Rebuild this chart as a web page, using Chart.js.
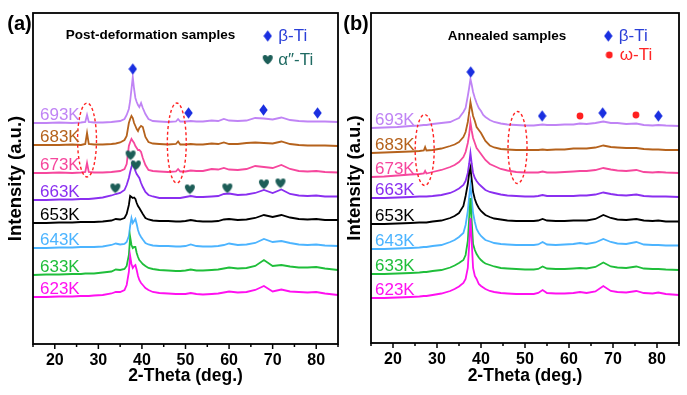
<!DOCTYPE html>
<html><head><meta charset="utf-8">
<script src="https://cdn.jsdelivr.net/npm/chart.js@4/dist/chart.umd.min.js"></script>
<style>
html,body{margin:0;padding:0;background:#fff;width:687px;height:395px;overflow:hidden}
#ca{position:absolute;left:0;top:0}
#cb{position:absolute;left:337px;top:0}
</style></head><body>
<canvas id="ca" width="345" height="395"></canvas>
<canvas id="cb" width="350" height="395"></canvas>
<script>
// ---------- data ----------
const names = ['693K','683K','673K','663K','653K','643K','633K','623K'];
const colors = ['#c084f5','#b5621c','#f6479d','#8a2ff0','#000000','#4cb4ff','#1fbe3a','#ff10f0'];

// (a) post-deformation samples
const xA = [15,18,21,24,26,27,27.4,27.8,29,31,33,34,35,36,36.5,37,37.3,37.6,37.9,38.2,38.5,38.8,39.1,39.4,39.8,40.2,40.8,41.5,42.5,44,46,47.8,48.3,48.8,50,51.2,52.5,54,56,57.5,58.8,60,62,64,66,68,70,72,74,76,78,80,82,85];
const offsetsA = [221,199,171,144,121,96,69,47];
const a693 = [0,0,0.5,0,0.5,1,8,1,0.5,0.5, 1,1.5,2,4,8, 14,22,34,46,34, 25,21,18,16,20, 15,9,4,2,1.5, 1,1.5,4,1.5,1.5, 2,1.5,1.5,2.5,2, 4,2.5,2,2.5,5, 4.5,3.5,5.5,3,2, 1.5,1.5,1.5,1];
const a683 = [0,0,0,0.5,0,1,12,1,0.5,0.5, 1,1.5,2.5,5,9, 22,26,29,27,22, 19,16,14,17,19, 18,8,3,1.5,1, 0.5,1,3.5,0.5,0.5, 1,0.5,0.5,1.5,1, 2.5,1,1,2,2.5, 2,1.5,3.5,1,0, -0.5,-0.5,-0.5,-1];
const a673 = [0,0,0.5,0,0.5,1,10,1,0.5,0.5, 1,1.5,2,4,9, 27,31,34,32,30, 27,25,23,23,21, 15,8,3,2,1.5, 1,1.5,4,1.5,1.5, 2.5,2,2,4,3.5, 5,3.5,3,4,7, 6,5,8,4,2, 1.5,2,1,0.5];
const a663 = [0,0,0.5,0.5,1,1,1,1,1.5,2.5, 4.5,6,7,10,15, 22,28,33,37,33, 29,26,24,22,17, 13,8,5,3.5,2, 2,2,2,2,3, 4,3,3,3.5,4, 6,6.5,5,5.5,7, 10,7,10.5,6,4.5, 4,4.5,3.5,3.5];
const a653 = [0,0,0.5,0.5,1,1,1,1,1,1.5, 2.5,4,3.5,5,9, 18,27,26,25,25.5, 24,20,17,15,12, 9,5,3.5,2.5,2, 2,1.5,1.5,1.5,2, 3,2,1.5,1.5,2, 3.5,4,3,3.5,5, 8,6,8,5.5,4, 3.5,4,3,3];
const a643 = [0,0,0.5,0.5,1,1,1,1,1,1.5, 3,4.5,3.5,4,6, 12,22,30,25,27, 29,24,18,14,11, 8.5,5,3.5,2.5,2, 2,1.5,1.5,1.5,2, 3.5,2,1.5,1.5,2, 3,4.5,3,3.5,5, 9,6,7,5,3.5, 3,3.5,2.5,2];
const a633 = [0,0.5,0.5,1,1,1.5,1.5,1.5,1.5,2.5, 3.5,5.5,5,6,9, 20,38,30,27,28, 28,22,18,15,13, 11,9,7,6,5, 4.5,4,4,4,4.5, 5.5,4.5,4.5,5,5.5, 6.5,7.5,6.5,7,9, 15,9,10,8.5,7.5, 7.5,8,6.5,5];
const a623 = [0,0,0.5,0.5,1,1,1,1,1.5,2, 3.5,5,5,7,12, 25,41,33,29,31, 32,27,21,17,14, 12,9,7,5,4, 3.5,3,3,3,3, 4,3,2.5,3,3.5, 4.5,5.5,4.5,5,7, 11,5.5,7.5,5.5,5, 4.5,5,3.5,2];
const betaA = [[37.9,275],[50.7,231],[67.9,234],[80.3,231]];
const alphaA = [[37.4,189],[38.6,179],[33.9,156],[51.0,155],[59.6,156],[68.0,160],[71.8,161]];
const ellipsesA = [[27.4,204,2.17,37],[48.0,201,2.17,40]];

// (b) annealed samples
const xB = [15,18,21,24,26,27,27.3,27.6,29,31, 33,34,35,36,36.5,37,37.3,37.6,37.9,38.2, 38.6,39,39.5,40,40.5,41,42,43,44.5,46, 48,50,52,53,54,55,57,59,61,62.5, 64,66,67.8,69.5,71,73,75.3,77,79,80.3, 82,85];
const offsetsB = [215,190,166,145,119,94,69,45];
const b693 = [0,0.5,1,2,2.5,3,3,3,4,5, 6,8,10,16,20,32,40,49,43,36, 30,25,20,17,13,11,8,6,4.5,3.5, 3,2.5,2.5,3,3.5,3,3,3.5,3.5,4.5, 4,5,6.5,5,5,4,4.5,3,2.5,3, 2.5,2];
const b683 = [0,0.5,1,1.5,2,2.5,6,2.5,3,4.5, 7,8.5,11,16,21,31,40,51,44,37, 32,26,23,20,16,12,7.5,5.5,4,3.5, 3,3,3,3,3.5,3,3.5,3.5,4.5,4.5, 4.5,5.5,7.5,6,5.5,5,5,4,3.5,3.5, 3,3];
const b673 = [0,0.5,1.5,2.5,3,3.5,6,3.5,5,7, 10,12,15,20,25,34,42,55,46,39, 34,29,26,23,20,17,13,11,8,6.5, 5,4.5,4.5,4.5,5.5,4.5,4.5,5,5.5,6, 6,7,9,7.5,6.5,6,7,5,4.5,5, 4.5,4];
const b663 = [0,0,0.5,1,1.5,1.5,1.5,1.5,2,3, 5,7,9.5,13,17,25,34,45,34,25, 20,17,14,12,10,8,6,5,3.5,2.5, 2,1.5,1.5,2,3,2,2,2,2,2.5, 2.5,3.5,5.5,4,3,2.5,3.5,2,1.5,1.5, 1.5,1];
const b653 = [0,0,0.5,1,1.5,1.5,1.5,1.5,2.5,3.5, 6,8,11,18,28,40,50,56,44,32, 25,20,16,13,11,9,7,5.5,4.5,3.5, 3,3,3,3.5,5,3.5,3,3,3.5,3.5, 3.5,5,9,6,4.5,4,5,3.5,3,3.5, 2.5,2.5];
const b643 = [0,0,0.5,1,1.5,2,2,2,3,4, 7,9,12,16,24,38,52,64,50,36, 27,20,16,13,11,9,7.5,6,5,4.5, 4,4,4,4.5,7,4.5,4,4.5,5,6, 5,6.5,10,7,5.5,5,7,4.5,4,4, 3.5,3.5];
const b633 = [0,0,0.5,1,1.5,2,2,2,3,4, 6.5,8.5,11,14,19,33,55,76,52,30, 24,20,16.5,14,12,10.5,9,7.5,6,5.5, 5,4.5,4.5,5,7.5,5.5,5,5,5.5,6, 5.5,7,11.5,7.5,6.5,6,7.5,5.5,5,5, 4.5,4];
const b623 = [0,0,0.5,1,1.5,2,2,2,3,4.5, 7,9,11.5,15,19,30,52,80,55,30, 22,19,14,12,10.5,9,7,6,5,4.5, 4,4,4,5,8,5,4.5,4.5,5,6, 5,6.5,12,7,6,5.5,7,5,4.5,5.5, 4,3];
const betaB = [[37.66,271],[53.9,227],[67.65,230],[80.3,227]];
const omegaB = [[62.5,227],[75.2,228]];
const ellipsesB = [[27.2,193,2.16,35.5],[48.3,195.5,2.16,36]];

// ---------- styling helpers ----------
const FONT = '"Liberation Sans", Arial, Helvetica, sans-serif';
function mkCanvas(w,h,draw){const c=document.createElement('canvas');c.width=w;c.height=h;draw(c.getContext('2d'));return c;}
const diamondImg = mkCanvas(9,12,g=>{g.fillStyle='#1a2fe0';g.beginPath();g.moveTo(4.5,0.3);g.lineTo(8.7,6);g.lineTo(4.5,11.7);g.lineTo(0.3,6);g.closePath();g.fill();});
const heartImg = mkCanvas(12,11,g=>{g.fillStyle='#1d5e58';g.beginPath();g.moveTo(6,10.6);g.bezierCurveTo(0.2,6.2,-0.2,1.6,3,1);g.bezierCurveTo(4.8,0.7,5.9,2.2,6,3.2);g.bezierCurveTo(6.1,2.2,7.2,0.7,9,1);g.bezierCurveTo(12.2,1.6,11.8,6.2,6,10.6);g.closePath();g.fill();});
const dotImg = mkCanvas(8,8,g=>{g.fillStyle='#ff2020';g.beginPath();g.arc(4,4,3.4,0,Math.PI*2);g.fill();});

function curveSets(xs, rows, offs){
  // lowest pattern listed first so it is drawn on top
  const ds=[];
  for(let i=rows.length-1;i>=0;i--){
    ds.push({type:'line',label:names[i],data:xs.map((x,k)=>({x:x,y:rows[i][k]+offs[i]})),
      borderColor:colors[i],borderWidth:1.8,pointRadius:0,fill:false,tension:0,order:1});
  }
  return ds;
}
function markerSet(pts,img){
  return {type:'line',showLine:false,data:pts.map(p=>({x:p[0],y:p[1]})),pointStyle:img,pointRadius:5,order:-1};
}

const deco = {
  id:'deco',
  afterDraw(chart,args,o){
    const {ctx,chartArea:a,scales:{x,y}} = chart;
    ctx.save();
    // dashed ellipses
    ctx.strokeStyle='#ff2222';ctx.lineWidth=1.4;ctx.setLineDash([3,2.5]);
    o.ellipses.forEach(e=>{
      const cx=x.getPixelForValue(e[0]), cy=y.getPixelForValue(e[1]);
      const rx=Math.abs(x.getPixelForValue(e[0]+e[2])-cx), ry=Math.abs(y.getPixelForValue(e[1]+e[3])-cy);
      ctx.beginPath();ctx.ellipse(cx,cy,rx,ry,0,0,Math.PI*2);ctx.stroke();
    });
    ctx.setLineDash([]);
    // pattern labels
    ctx.font='17px '+FONT;ctx.textAlign='left';ctx.textBaseline='middle';
    names.forEach((n,i)=>{ctx.fillStyle=colors[i];ctx.fillText(n,a.left+o.labelDx,y.getPixelForValue(o.offsets[i])-o.labelDy);});
    // frame
    ctx.strokeStyle='#000';ctx.lineWidth=1.8;
    ctx.strokeRect(a.left,a.top,a.right-a.left,a.bottom-a.top);
    // tick marks
    ctx.lineWidth=1.5;
    x.ticks.forEach(t=>{const px=x.getPixelForValue(t.value);const len=(t.value%10===0)?5:3;
      ctx.beginPath();ctx.moveTo(px,a.bottom);ctx.lineTo(px,a.bottom+len);ctx.stroke();});
    // panel letter
    ctx.fillStyle='#000';ctx.font='bold 20px '+FONT;ctx.textAlign='center';
    ctx.fillText(o.letter,o.letterX,24);
    // panel title
    ctx.font='bold 13.5px '+FONT;
    ctx.fillText(o.title,a.left+o.titleDx,a.top+o.titleDy);
    // legend
    ctx.textAlign='left';ctx.font='17px '+FONT;
    o.legend.forEach(l=>{
      const img=l.img;ctx.drawImage(img,a.left+l.dx-img.width/2,a.top+l.dy-img.height/2);
      ctx.fillStyle=l.color;ctx.fillText(l.text,a.left+l.dx+10.5,a.top+l.dy+0.5);
    });
    ctx.restore();
  }
};

function makeChart(id, xs, rows, offs, markers, opts){
  const datasets = markers.concat(curveSets(xs, rows, offs));
  return new Chart(document.getElementById(id),{
    data:{datasets},
    options:{
      responsive:false,animation:false,devicePixelRatio:1,
      layout:{padding:{top:13,right:opts.padRight,left:0,bottom:0}},
      plugins:{legend:{display:false},tooltip:{enabled:false},deco:opts.deco},
      scales:{
        x:{type:'linear',min:15,max:85,
          ticks:{stepSize:5,autoSkip:false,maxRotation:0,padding:7,color:'#000',
            font:{family:FONT,size:16,weight:'bold'},callback:v=>(v%10===0?v:'')},
          grid:{display:false,drawTicks:false},border:{display:false},
          title:{display:true,text:'2-Theta (deg.)',color:'#000',font:{family:FONT,size:17.5,weight:'bold'},padding:{top:0,bottom:8}},
          afterFit(s){s.height=opts.xH;}},
        y:{type:'linear',min:0,max:opts.yMax,
          ticks:{display:false},grid:{display:false,drawTicks:false},border:{display:false},
          title:{display:true,text:'Intensity (a.u.)',color:'#000',font:{family:FONT,size:18.5,weight:'bold'},padding:{top:opts.yTitlePad,bottom:0}},
          afterFit(s){s.width=opts.yW;}}
      }
    },
    plugins:[deco]
  });
}

makeChart('ca', xA, [a693,a683,a673,a663,a653,a643,a633,a623], offsetsA,
  [markerSet(betaA,diamondImg), markerSet(alphaA,heartImg)],
  {padRight:4,xH:51,yW:33,yMax:331,yTitlePad:5,
   deco:{ellipses:ellipsesA,offsets:offsetsA,labelDx:7,labelDy:8,letter:'(a)',letterX:19.5,
     title:'Post-deformation samples',titleDx:117.5,titleDy:22,
     legend:[{img:diamondImg,dx:234.7,dy:23,text:'β-Ti',color:'#2a3fd8'},
             {img:heartImg,dx:234.7,dy:46.5,text:'α″-Ti',color:'#1f6a62'}]}});

makeChart('cb', xB, [b693,b683,b673,b663,b653,b643,b633,b623], offsetsB,
  [markerSet(betaB,diamondImg), markerSet(omegaB,dotImg)],
  {padRight:8,xH:52,yW:34,yMax:330,yTitlePad:7,
   deco:{ellipses:ellipsesB,offsets:offsetsB,labelDx:4,labelDy:7.5,letter:'(b)',letterX:19,
     title:'Annealed samples',titleDx:136,titleDy:23,
     legend:[{img:diamondImg,dx:237.3,dy:23,text:'β-Ti',color:'#2a3fd8'},
             {img:dotImg,dx:238.3,dy:42,text:'ω-Ti',color:'#ff2525'}]}});
</script></body></html>
